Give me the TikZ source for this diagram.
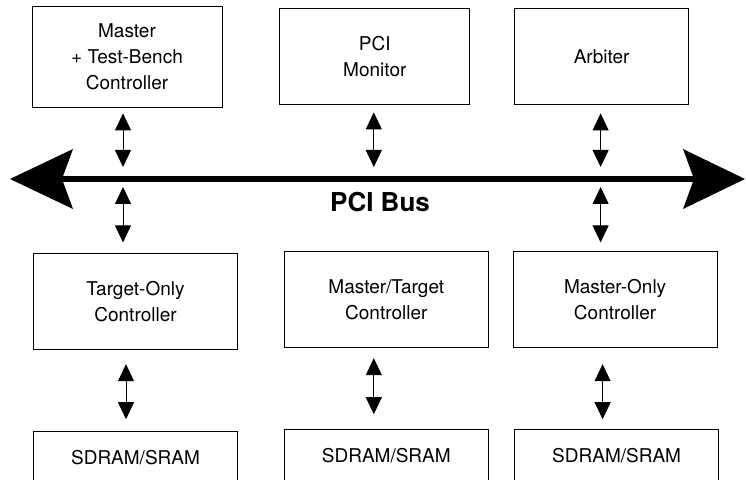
\documentclass[tikz,border=0pt]{standalone}
\usepackage{fontspec}
\setmainfont{TeX Gyre Heros}
\usepackage{tikz}
\usetikzlibrary{arrows.meta,positioning}

\begin{document}
\begin{tikzpicture}[
    x=1bp, y=-1bp,
    block/.style={rectangle, draw, line width=0.8bp, minimum width=190bp, minimum height=96bp, align=center, inner sep=2bp, font=\fontsize{19bp}{26bp}\selectfont},
    ctrl/.style={block, minimum width=204bp},
    mem/.style={block, minimum width=204bp, minimum height=51bp},
    bus/.style={line width=6bp, {Stealth[length=63bp,width=60bp,inset=11bp,line width=0pt]}-{Stealth[length=62bp,width=60bp,inset=11bp,line width=0pt]}},
    buslabel/.style={font=\fontsize{26bp}{30bp}\selectfont\bfseries},
    link/.style={<->, >={Triangle[width=16bp,length=17bp]}, line width=0.8bp}
]
\useasboundingbox (0,0) rectangle (746,480);

% Devices on top of the bus
\node[block, minimum height=101bp] (master) at (127,56.5) {Master\\+ Test-Bench\\Controller};
\node[block, right=57bp of master] (monitor) {PCI\\Monitor};
\node[block, minimum width=174bp, right=44bp of monitor] (arbiter) {Arbiter};

% The bus itself
\coordinate (bus-west) at (10,179);
\coordinate (bus-east) at (745,179);
\draw[bus] (bus-west) -- (bus-east);
\node[buslabel] (bus-label) at (380,202) {PCI Bus};

% Controllers below the bus
\node[ctrl, below=146bp of master, xshift=8.5bp] (target) {Target-Only\\Controller};
\node[ctrl, right=46bp of target, yshift=2bp] (mastertarget) {Master/Target\\Controller};
\node[ctrl, right=24bp of mastertarget] (masteronly) {Master-Only\\Controller};

% Memories
\node[mem, below=81bp of target] (mem-target) {SDRAM/SRAM};
\node[mem, below=81bp of mastertarget] (mem-mastertarget) {SDRAM/SRAM};
\node[mem, below=81bp of masteronly, xshift=1.5bp] (mem-masteronly) {SDRAM/SRAM};

% Bus connections
\draw[link, shorten <=6bp, shorten >=12bp] ([xshift=-4bp]master.south) -- ([xshift=-4bp]master.south |- bus-west);
\draw[link, shorten <=7.5bp, shorten >=12bp] ([xshift=-1bp]monitor.south) -- ([xshift=-1bp]monitor.south |- bus-west);
\draw[link, shorten <=8.5bp, shorten >=12bp] ([xshift=-1bp]arbiter.south) -- ([xshift=-1bp]arbiter.south |- bus-west);
\draw[link, shorten <=8bp, shorten >=11bp] ([xshift=-12.5bp]target.north |- bus-west) -- ([xshift=-12.5bp]target.north);
\draw[link, shorten <=8bp, shorten >=9bp] ([xshift=-14.5bp]masteronly.north |- bus-west) -- ([xshift=-14.5bp]masteronly.north);

% Memory connections
\draw[link, shorten <=14bp, shorten >=12bp] ([xshift=-9.5bp]target.south) -- ([xshift=-9.5bp]target.south |- mem-target.north);
\draw[link, shorten <=10bp, shorten >=15bp] ([xshift=-12.5bp]mastertarget.south) -- ([xshift=-12.5bp]mastertarget.south |- mem-mastertarget.north);
\draw[link, shorten <=16bp, shorten >=10bp] ([xshift=-12.5bp]masteronly.south) -- ([xshift=-12.5bp]masteronly.south |- mem-masteronly.north);

\end{tikzpicture}
\end{document}
